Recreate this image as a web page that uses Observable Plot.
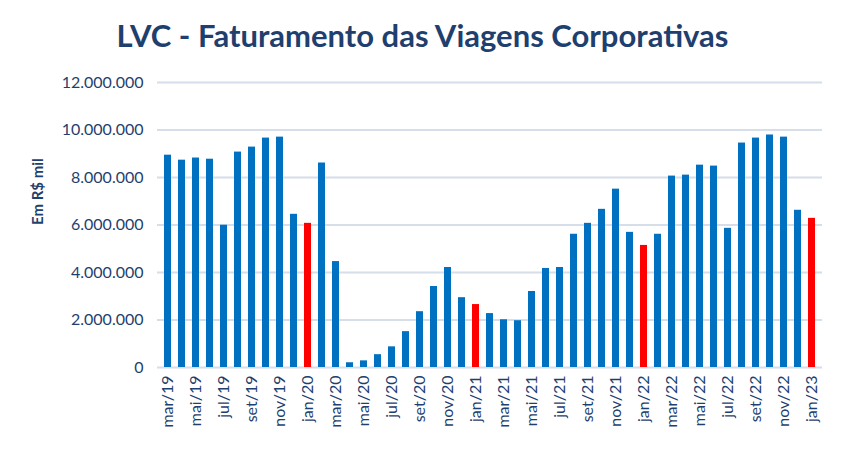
<!DOCTYPE html>
<html><head><meta charset="utf-8">
<script src="https://cdn.jsdelivr.net/npm/d3@7"></script>
<script src="https://cdn.jsdelivr.net/npm/@observablehq/plot@0.6"></script>
<style>
body{margin:0;background:#fff;font-family:Lato,"Noto Sans",sans-serif;}
#title{height:65px;box-sizing:border-box;padding-top:17px;text-align:center;font-weight:bold;font-size:31px;line-height:36px;color:#1F3F6E;}
</style></head><body>
<div id="title">LVC - Faturamento das Viagens Corporativas</div>
<div id="chart"></div>
<script>
const months = ["mar/19","abr/19","mai/19","jun/19","jul/19","ago/19","set/19","out/19","nov/19","dez/19",
"jan/20","fev/20","mar/20","abr/20","mai/20","jun/20","jul/20","ago/20","set/20","out/20","nov/20","dez/20",
"jan/21","fev/21","mar/21","abr/21","mai/21","jun/21","jul/21","ago/21","set/21","out/21","nov/21","dez/21",
"jan/22","fev/22","mar/22","abr/22","mai/22","jun/22","jul/22","ago/22","set/22","out/22","nov/22","dez/22",
"jan/23"];
const values = [8940000,8730000,8820000,8770000,5990000,9070000,9280000,9660000,9700000,6450000,
6070000,8610000,4460000,200000,280000,540000,870000,1510000,2350000,3410000,4210000,2940000,
2650000,2270000,2010000,1970000,3200000,4170000,4210000,5610000,6070000,6660000,7510000,5690000,
5140000,5610000,8060000,8100000,8520000,8480000,5860000,9450000,9660000,9790000,9700000,6620000,
6280000];
const yTicks = [0,2000000,4000000,6000000,8000000,10000000,12000000];
const xTickLabels = ["mar/19","mai/19","jul/19","set/19","nov/19","jan/20","mar/20","mai/20","jul/20","set/20","nov/20",
"jan/21","mar/21","mai/21","jul/21","set/21","nov/21","jan/22","mar/22","mai/22","jul/22","set/22","nov/22","jan/23"];
const yLabel = "Em R$ mil";

const data = months.map((m,i)=>({month:m, value:values[i], jan:m.startsWith("jan")}));
const fmt = d3.formatLocale({decimal:",",thousands:".",grouping:[3],currency:["R$",""]}).format(",");

const chart = Plot.plot({
  width:845, height:385,
  marginTop:17, marginBottom:83, marginLeft:157, marginRight:23,
  style:{fontFamily:"Lato, 'Noto Sans', sans-serif", color:"#1F3F6E", background:"#fff"},
  x:{domain:months, padding:0.5, align:0.5, label:null},
  y:{domain:[0,12000000], label:null},
  marks:[
    Plot.gridY(yTicks,{stroke:"#D6DEEA", strokeOpacity:1, strokeWidth:2}),
    Plot.barY(data,{x:"month", y:"value", fill:d=>d.jan?"#FF0000":"#0070C0"}),
    Plot.axisY(yTicks,{tickSize:0, tickPadding:14, tickFormat:fmt, fontSize:16, fill:"#1F3F6E", label:null}),
    Plot.axisX(xTickLabels,{tickSize:0, tickPadding:8, tickRotate:-90, fontSize:16, fill:"#1F3F6E", label:null}),
    Plot.text([yLabel],{frameAnchor:"left", dx:-119, rotate:-90, fontSize:15, fontWeight:"bold", fill:"#1F3F6E"})
  ]
});
document.getElementById("chart").appendChild(chart);
</script>
</body></html>
